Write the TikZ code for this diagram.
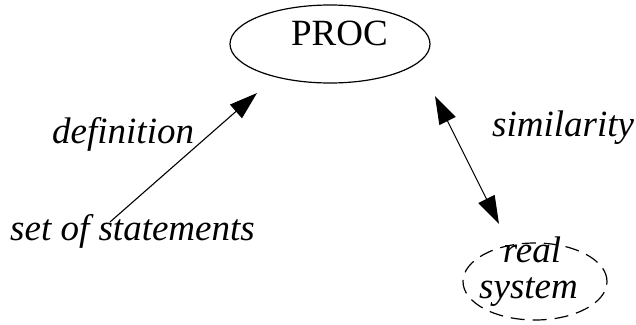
\documentclass[tikz,border=0pt]{standalone}
\usepackage{fontspec}
\setmainfont{Liberation Serif}
\usetikzlibrary{shapes.geometric,arrows.meta}
\begin{document}
\begin{tikzpicture}[x=1pt,y=-1pt,
  lbl/.style={font=\fontsize{37}{37}\selectfont\itshape, inner sep=0pt, anchor=base},
  oval/.style={ellipse, draw, line width=1.2pt, inner sep=0pt},
  conn/.style={line width=1.1pt, -{Triangle[length=28pt,width=18pt]}},
  biconn/.style={line width=1.1pt, {Triangle[length=28pt,width=18pt]}-{Triangle[length=28pt,width=18pt]}}]
  \useasboundingbox (0,0) rectangle (636,324);

  % process oval
  \node[oval, minimum width=200pt, minimum height=78pt] (proc) at (330,44) {};
  \node[font=\fontsize{37}{37}\selectfont, inner sep=0pt, anchor=base] (proctxt) at (339.5,45) {PROC};

  % real system oval (dashed)
  \node[oval, dash pattern=on 14pt off 8pt, minimum width=144pt, minimum height=77pt] (real) at (535,281.5) {};
  \node[lbl] (realtxt) at (532,262) {real};
  \node[lbl] (systxt) at (528.5,298) {system};

  % side labels
  \node[lbl, anchor=base west] (defn) at (52,143) {definition};
  \node[lbl, anchor=base west] (simil) at (492,136) {similarity};
  \node[lbl, anchor=base west] (stmts) at (10,240) {set of statements};

  % connector ends
  \coordinate (defstart) at (110,222);
  \coordinate (defend) at (257,93);
  \coordinate (simtop) at (435,96);
  \coordinate (simbot) at (499,224);

  \draw[conn] (defstart) -- (defend);
  \draw[biconn] (simtop) -- (simbot);
\end{tikzpicture}
\end{document}
